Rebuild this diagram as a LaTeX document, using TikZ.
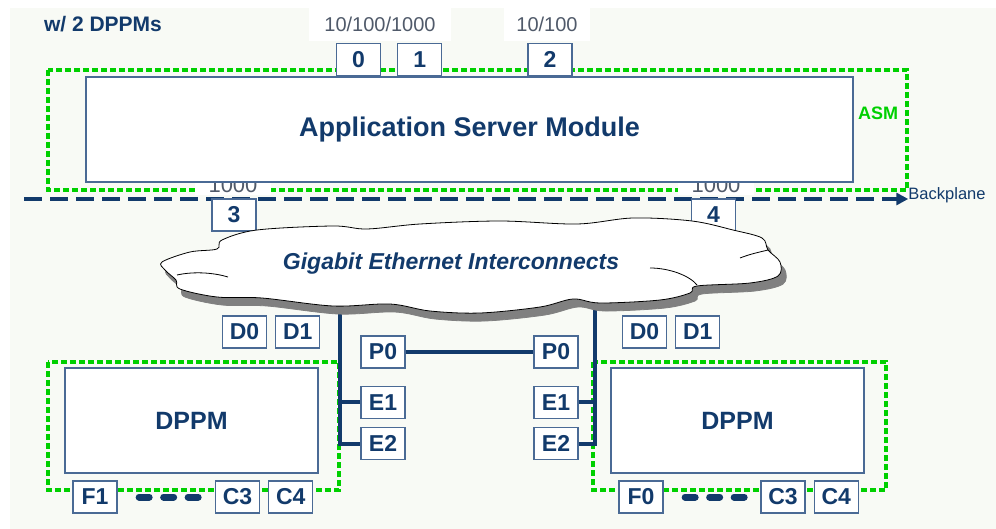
\documentclass[tikz,border=0pt]{standalone}
\usepackage{fontspec}
\setmainfont{Liberation Sans}
\usepackage{tikz}
\usetikzlibrary{positioning}
\usetikzlibrary{arrows.meta}
\definecolor{navy}{HTML}{123A6B}
\definecolor{boxline}{HTML}{4A6A95}
\definecolor{zonegreen}{HTML}{00D000}
\definecolor{speedgrey}{HTML}{505A6A}
\definecolor{bgtint}{HTML}{F8FAF5}

\begin{document}
\begin{tikzpicture}[x=1pt,y=-1pt,
portbox/.style={rectangle, draw=boxline, fill=white, line width=1.3pt, minimum width=44pt, minimum height=32pt, inner sep=0pt, text=navy, font=\fontsize{23}{23}\selectfont\bfseries},
modbox/.style={rectangle, draw=boxline, fill=white, line width=1.3pt, minimum height=105pt, inner sep=0pt, text=navy, font=\fontsize{25}{25}\selectfont\bfseries},
zone/.style={draw=zonegreen, line width=4pt, dash pattern=on 6pt off 3pt},
speed/.style={fill=white, text=speedgrey, inner sep=2pt, font=\fontsize{20}{20}\selectfont},
busline/.style={draw=navy, line width=4pt},
pause/.style={draw=navy, line width=7pt, line cap=round, dash pattern=on 10pt off 14.5pt, shorten <=21.5pt, shorten >=16pt},
]
\useasboundingbox (0,0) rectangle (996,529);
\fill[white] (0,0) rectangle (996,529);
\fill[bgtint] (10,8) rectangle (996,529);

%Zones
\draw[zone] (48,70) rectangle (907,190);
\draw[zone] (48,362) rectangle (339,490);
\draw[zone] (593,362) rectangle (886,490);

%Labels
\node[text=navy, font=\fontsize{21}{21}\selectfont\bfseries] (ttl) at (103,24) {w/ 2 DPPMs};
\node[speed, inner xsep=15pt, inner ysep=10pt] (spd01) at (380,24) {10/100/1000};
\node[speed, inner xsep=12pt, inner ysep=10pt] (spd2) at (547,24) {10/100};
\node[speed, inner xsep=14pt, font=\fontsize{22}{22}\selectfont] (spd3) at (233,185) {1000};
\node[speed, inner xsep=14pt, font=\fontsize{22}{22}\selectfont] (spd4) at (716,185) {1000};
\node[text=zonegreen, font=\fontsize{18}{18}\selectfont\bfseries] (asmlbl) at (878,113) {ASM};
\node[text=navy, inner sep=0pt, font=\fontsize{16.5}{16.5}\selectfont] (bp) at (947,195) {Backplane};

%Backplane
\coordinate (bpstart) at (24,199);
\draw[navy, line width=3.5pt, dash pattern=on 18pt off 8pt, -{Triangle[length=12pt,width=12pt]}] (bpstart) -- (bpstart -| bp.west);

%Nodes
\node[modbox, minimum width=767pt, font=\fontsize{27}{27}\selectfont\bfseries] (asm) at (469.5,129.5) {Application Server Module};
\node[portbox] (p0) at (358.5,59.5) {0};
\node[portbox] (p1) [right=16pt of p0] {1};
\node[portbox] (p2) at (550,59.5) {2};
\node[portbox] (p3) at (234,215) {3};
\node[portbox] (p4) at (713.5,215) {4};

\node[modbox, minimum width=253pt] (ldppm) at (191.5,420.5) {DPPM};
\node[modbox, minimum width=253pt] (rdppm) at (737.5,420.5) {DPPM};

\node[portbox] (lD0) at (244.5,332) {D0};
\node[portbox] (lD1) [right=8pt of lD0] {D1};
\node[portbox] (rD0) at (644.5,332) {D0};
\node[portbox] (rD1) [right=8pt of rD0] {D1};

\node[portbox] (lP0) at (383,352) {P0};
\node[portbox] (lE1) [below=17pt of lP0] {E1};
\node[portbox] (lE2) [below=8pt of lE1] {E2};
\node[portbox] (rP0) at (556,352) {P0};
\node[portbox] (rE1) [below=17pt of rP0] {E1};
\node[portbox] (rE2) [below=8pt of rE1] {E2};

\node[portbox] (lF1) at (95,497) {F1};
\node[portbox] (lC3) at (237.5,497) {C3};
\node[portbox] (lC4) [right=8pt of lC3] {C4};
\node[portbox] (rF0) at (641,497) {F0};
\node[portbox] (rC3) at (783,497) {C3};
\node[portbox] (rC4) [right=8pt of rC3] {C4};

%Lines
\coordinate (lbus) at (340,305);
\coordinate (rbus) at (595,305);
\draw[busline] (lbus) |- (lE2.west);
\draw[busline] (lE1.west) -- (lE1.west -| lbus);
\draw[busline] (rbus) |- (rE2.east);
\draw[busline] (rE1.east) -- (rE1.east -| rbus);
\draw[navy, line width=3.5pt] (lP0) -- (rP0);
\draw[pause] (lF1.east) -- (lC3.west);
\draw[pause] (rF0.east) -- (rC3.west);

%Cloud
\foreach \sx/\sy/\fc/\dc in {5/8/gray/gray, 0/0/white/black}
  \filldraw[fill=\fc, draw=\dc, line width=0.8pt, shift={(\sx,\sy)}] plot[smooth cycle, tension=0.55] coordinates {
    (162,262) (190,252) (217,249) (222,240) (257,230) (333,226) (367,229) (420,224)
    (500,221) (577,224) (633,218) (692,221) (733,230) (762,238) (768,250) (780,262)
    (778,276) (750,283) (697,286) (690,293) (660,300) (600,303) (573,299) (540,307)
    (480,313) (430,311) (390,304) (333,306) (262,298) (217,297) (180,289) (176,280) (165,270)};
\draw[line width=0.8pt] (177,275) .. controls (195,271) and (215,273) .. (228,277);
\draw[line width=0.8pt] (650,268) .. controls (670,268) and (690,276) .. (697,285);
\draw[line width=0.8pt] (740,258) .. controls (750,254) and (760,252) .. (768,250);
\node[text=navy, font=\fontsize{23}{23}\selectfont\bfseries\itshape] (gbe) at (451,264) {Gigabit Ethernet Interconnects};
\end{tikzpicture}
\end{document}
